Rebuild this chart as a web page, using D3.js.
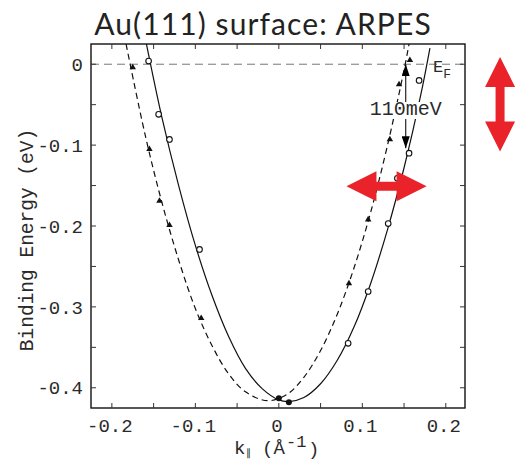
<!DOCTYPE html>
<html>
<head>
<meta charset="utf-8">
<script src="https://cdn.jsdelivr.net/npm/d3@7"></script>
<style>
  body { margin: 0; background: #fff; }
  svg { display: block; }
</style>
</head>
<body>
<div id="chart"></div>
<script>
// fitted band curves (k in 1/A, E in eV)
const solidK = [-0.159, -0.14, -0.12, -0.10, -0.08, -0.06, -0.04, -0.02, 0.0, 0.012, 0.03, 0.05, 0.07, 0.09, 0.11, 0.13, 0.15, 0.17, 0.181];
const solidE = [0.027, -0.066, -0.150, -0.224, -0.286, -0.337, -0.376, -0.401, -0.415, -0.417, -0.412, -0.395, -0.366, -0.325, -0.271, -0.205, -0.128, -0.038, 0.020];
const dashK = [-0.183, -0.16, -0.14, -0.12, -0.10, -0.08, -0.06, -0.04, -0.0135, 0.01, 0.03, 0.05, 0.07, 0.09, 0.11, 0.13, 0.15, 0.156];
const dashE = [0.025, -0.088, -0.171, -0.242, -0.302, -0.348, -0.383, -0.405, -0.416, -0.408, -0.387, -0.354, -0.309, -0.252, -0.183, -0.101, -0.007, 0.025];

// measured points
const circleK = [-0.156, -0.144, -0.131, -0.095, 0.083, 0.107, 0.131, 0.142, 0.156, 0.168];
const circleE = [0.004, -0.062, -0.093, -0.229, -0.345, -0.281, -0.197, -0.141, -0.110, -0.020];
const triK = [-0.175, -0.155, -0.143, -0.131, -0.093, 0.084, 0.107, 0.133, 0.144, 0.157];
const triE = [-0.004, -0.105, -0.169, -0.199, -0.314, -0.271, -0.192, -0.093, -0.025, 0.005];
const dotK = [0.0, 0.012];
const dotE = [-0.413, -0.418];

const xTicks = [-0.2, -0.1, 0, 0.1, 0.2];
const yTicks = [0, -0.1, -0.2, -0.3, -0.4];
const xTickLabels = ["-0.2", "-0.1", "0", "0.1", "0.2"];
const yTickLabels = ["0", "-0.1", "-0.2", "-0.3", "-0.4"];
const minorX = d3.range(-0.2, 0.201, 0.05);
const minorY = d3.range(0, -0.401, -0.05);

// 110 meV splitting arrow and the red overlay arrows
const splitK = 0.152;
const splitE = [0.0, -0.104];
const redArrows = [
  {k1: 0.081, e1: -0.151, k2: 0.177, e2: -0.151},
  {k1: 0.265, e1: 0.009, k2: 0.265, e2: -0.108}
];

const width = 518, height = 461;
const mLeft = 91, mRight = 465, mTop = 44, mBottom = 408;
const mono = "'Liberation Mono', 'DejaVu Sans Mono', monospace";
const ink = "#2a2a2a";

const svg = d3.select("#chart").append("svg")
  .attr("width", width)
  .attr("height", height);

const x = d3.scaleLinear().domain([-0.225, 0.223]).range([mLeft, mRight]);
const y = d3.scaleLinear().domain([0.025, -0.425]).range([mTop, mBottom]);

const defs = svg.append("defs");
defs.append("clipPath").attr("id", "plot")
  .append("rect")
  .attr("x", mLeft).attr("y", mTop)
  .attr("width", mRight - mLeft).attr("height", mBottom - mTop);

defs.append("marker")
  .attr("id", "head")
  .attr("viewBox", "0 0 12 8")
  .attr("refX", 12).attr("refY", 4)
  .attr("markerWidth", 12).attr("markerHeight", 8)
  .attr("markerUnits", "userSpaceOnUse")
  .attr("orient", "auto-start-reverse")
  .append("path").attr("d", "M0,0 L12,4 L0,8 Z").attr("fill", "#000");

// title
svg.append("text")
  .attr("x", 263).attr("y", 35)
  .attr("text-anchor", "middle")
  .style("font-family", "Lato, 'Open Sans', sans-serif")
  .style("font-size", "30px")
  .style("letter-spacing", "1.1px")
  .style("fill", "#222")
  .text("Au(111) surface: ARPES");

const plot = svg.append("g").attr("clip-path", "url(#plot)");

// Fermi level
plot.append("line")
  .attr("x1", mLeft).attr("x2", mRight)
  .attr("y1", y(0)).attr("y2", y(0))
  .style("stroke", "#777")
  .style("stroke-width", 1)
  .style("stroke-dasharray", "8,5");

const line = d3.line()
  .x(d => x(d[0]))
  .y(d => y(d[1]))
  .curve(d3.curveCatmullRom);

plot.append("path")
  .datum(solidK.map((k, i) => [k, solidE[i]]))
  .attr("d", line)
  .style("fill", "none")
  .style("stroke", "#111")
  .style("stroke-width", 1.2);

plot.append("path")
  .datum(dashK.map((k, i) => [k, dashE[i]]))
  .attr("d", line)
  .style("fill", "none")
  .style("stroke", "#111")
  .style("stroke-width", 1.2)
  .style("stroke-dasharray", "6,4");

// points
plot.selectAll(".circ")
  .data(circleK.map((k, i) => [k, circleE[i]]))
  .join("circle")
  .attr("cx", d => x(d[0])).attr("cy", d => y(d[1]))
  .attr("r", 2.8)
  .style("fill", "#fff")
  .style("stroke", "#111")
  .style("stroke-width", 1.1);

plot.selectAll(".tri")
  .data(triK.map((k, i) => [k, triE[i]]))
  .join("path")
  .attr("transform", d => `translate(${x(d[0])},${y(d[1])})`)
  .attr("d", d3.symbol(d3.symbolTriangle, 18))
  .style("fill", "#111");

plot.selectAll(".dot")
  .data(dotK.map((k, i) => [k, dotE[i]]))
  .join("circle")
  .attr("cx", d => x(d[0])).attr("cy", d => y(d[1]))
  .attr("r", 3)
  .style("fill", "#111");

// splitting arrow with label on white
plot.append("line")
  .attr("x1", x(splitK)).attr("x2", x(splitK))
  .attr("y1", y(splitE[0])).attr("y2", y(splitE[1]))
  .attr("marker-start", "url(#head)")
  .attr("marker-end", "url(#head)")
  .style("stroke", "#111")
  .style("stroke-width", 1.1);

const labelBg = svg.append("rect").style("fill", "#fff");
const splitLabel = svg.append("text")
  .attr("x", x(splitK)).attr("y", 115)
  .attr("text-anchor", "middle")
  .style("font-family", mono)
  .style("font-size", "20px")
  .style("fill", ink)
  .text("110meV");
const bb = splitLabel.node().getBBox();
labelBg
  .attr("x", bb.x - 1).attr("y", bb.y + 4)
  .attr("width", bb.width + 2).attr("height", bb.height - 6);

// E_F label
const ef = svg.append("text")
  .attr("x", 433).attr("y", 72)
  .style("font-family", mono)
  .style("fill", ink);
ef.append("tspan").style("font-size", "17px").text("E");
ef.append("tspan").attr("dy", 6).style("font-size", "13px").text("F");

// frame
svg.append("rect")
  .attr("x", mLeft).attr("y", mTop)
  .attr("width", mRight - mLeft).attr("height", mBottom - mTop)
  .style("fill", "none")
  .style("stroke", "#111")
  .style("stroke-width", 1.4);

// inward ticks on all four sides
const tickLen = 5;
svg.append("g").selectAll("line")
  .data(minorX)
  .join("line")
  .attr("x1", d => x(d)).attr("x2", d => x(d))
  .attr("y1", mBottom).attr("y2", mBottom - tickLen)
  .style("stroke", "#333");
svg.append("g").selectAll("line")
  .data(minorX)
  .join("line")
  .attr("x1", d => x(d)).attr("x2", d => x(d))
  .attr("y1", mTop).attr("y2", mTop + tickLen)
  .style("stroke", "#333");
svg.append("g").selectAll("line")
  .data(minorY)
  .join("line")
  .attr("x1", mLeft).attr("x2", mLeft + tickLen)
  .attr("y1", d => y(d)).attr("y2", d => y(d))
  .style("stroke", "#333");
svg.append("g").selectAll("line")
  .data(minorY)
  .join("line")
  .attr("x1", mRight).attr("x2", mRight - tickLen)
  .attr("y1", d => y(d)).attr("y2", d => y(d))
  .style("stroke", "#333");

// tick labels
svg.append("g").selectAll("text")
  .data(xTicks)
  .join("text")
  .attr("x", d => x(d) - 2).attr("y", 432)
  .attr("text-anchor", "middle")
  .style("font-family", mono)
  .style("font-size", "19px")
  .style("fill", ink)
  .text((d, i) => xTickLabels[i]);

svg.append("g").selectAll("text")
  .data(yTicks)
  .join("text")
  .attr("x", 83).attr("y", d => y(d))
  .attr("dy", "0.35em")
  .attr("text-anchor", "end")
  .style("font-family", mono)
  .style("font-size", "19px")
  .style("fill", ink)
  .text((d, i) => yTickLabels[i]);

// axis titles
svg.append("text")
  .attr("transform", "translate(33,240) rotate(-90)")
  .attr("text-anchor", "middle")
  .style("font-family", mono)
  .style("font-size", "19.5px")
  .style("fill", ink)
  .text("Binding Energy (eV)");

const xl = svg.append("g")
  .style("font-family", mono)
  .style("fill", ink);
xl.append("text").attr("x", 234).attr("y", 454).style("font-size", "19px").text("k");
xl.append("text").attr("x", 246).attr("y", 456).style("font-size", "10px").text("\u2225");
xl.append("text").attr("x", 262).attr("y", 454).style("font-size", "19px").text("(\u00c5");
xl.append("text").attr("x", 286).attr("y", 447).style("font-size", "17px").text("-1");
xl.append("text").attr("x", 308).attr("y", 455).style("font-size", "19px").text(")");

// red overlay arrows
const headLen = 30, headHalf = 15, shaftHalf = 4.5;
svg.append("g").selectAll("path")
  .data(redArrows)
  .join("path")
  .attr("d", d => {
    const x1 = x(d.k1), y1 = y(d.e1), x2 = x(d.k2), y2 = y(d.e2);
    const len = Math.hypot(x2 - x1, y2 - y1);
    const ux = (x2 - x1) / len, uy = (y2 - y1) / len;
    const px = -uy, py = ux;
    const pt = (s, w) => [x1 + ux * s + px * w, y1 + uy * s + py * w];
    const pts = [
      pt(0, 0), pt(headLen, headHalf), pt(headLen, shaftHalf),
      pt(len - headLen, shaftHalf), pt(len - headLen, headHalf), pt(len, 0),
      pt(len - headLen, -headHalf), pt(len - headLen, -shaftHalf),
      pt(headLen, -shaftHalf), pt(headLen, -headHalf)
    ];
    return "M" + pts.map(p => p.join(",")).join("L") + "Z";
  })
  .style("fill", "#ea2229");
</script>
</body>
</html>
